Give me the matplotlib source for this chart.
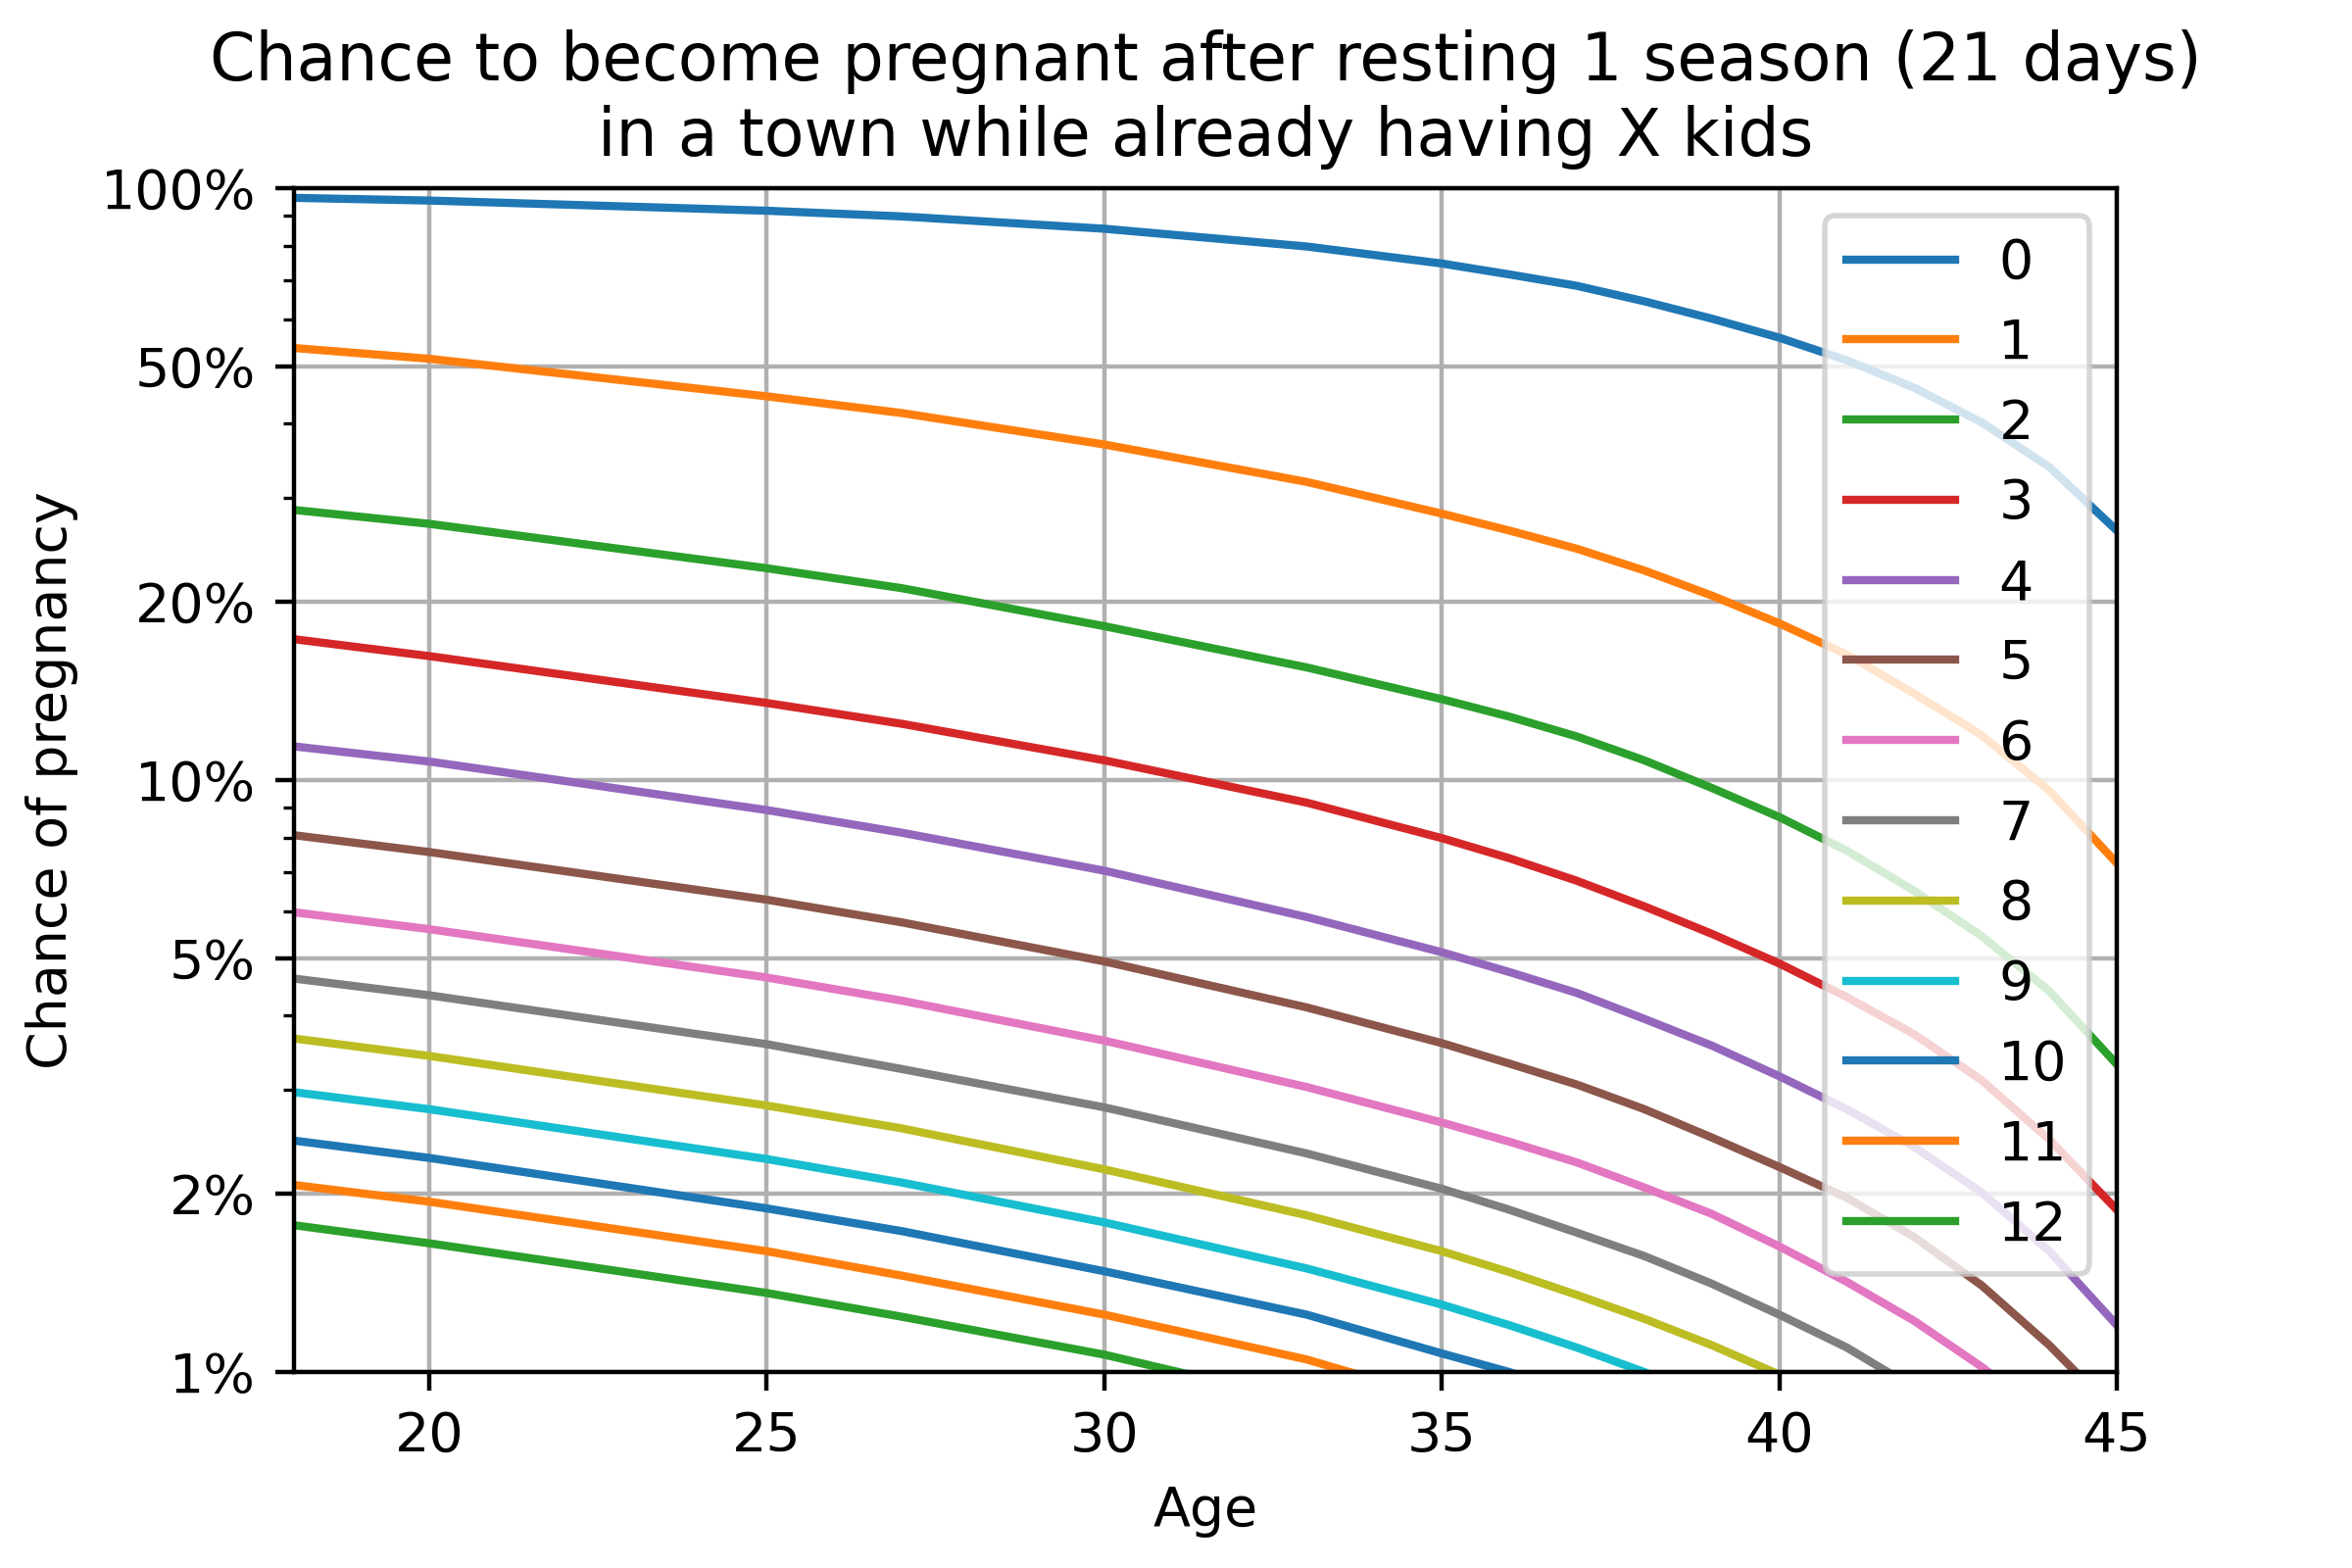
import matplotlib
matplotlib.use("Agg")
import matplotlib.pyplot as plt
from matplotlib.ticker import FixedLocator, FixedFormatter, LogLocator, NullFormatter

# Ages (x values)
ages = [18, 20, 25, 27, 30, 33, 35, 36, 37, 38, 39, 40, 41, 42, 43, 44, 45]

# Chance of pregnancy (%) for each number of kids already had
chance_0 = [96.3, 95.3, 91.6, 89.6, 85.4, 79.7, 74.6, 71.5, 68.4, 64.4, 60.2, 55.9, 51.2, 46.0, 40.2, 33.8, 26.4]
chance_1 = [53.7, 51.5, 44.5, 41.7, 36.9, 31.9, 28.2, 26.4, 24.6, 22.6, 20.5, 18.4, 16.3, 14.0, 11.9, 9.6, 7.24]
chance_2 = [28.6, 27.1, 22.8, 21.1, 18.2, 15.5, 13.7, 12.8, 11.85, 10.8, 9.7, 8.66, 7.6, 6.5, 5.45, 4.40, 3.31]
chance_3 = [17.3, 16.2, 13.5, 12.45, 10.8, 9.16, 7.98, 7.38, 6.76, 6.12, 5.50, 4.90, 4.30, 3.72, 3.11, 2.47, 1.88]
chance_4 = [11.4, 10.75, 8.9, 8.15, 7.03, 5.87, 5.12, 4.74, 4.37, 3.95, 3.56, 3.16, 2.78, 2.40, 2.01, 1.60, 1.20]
chance_5 = [8.07, 7.56, 6.28, 5.75, 4.94, 4.13, 3.595, 3.32, 3.06, 2.78, 2.49, 2.22, 1.97, 1.69, 1.40, 1.11, 0.85]
chance_6 = [5.98, 5.6, 4.64, 4.24, 3.63, 3.03, 2.64, 2.45, 2.26, 2.05, 1.85, 1.63, 1.42, 1.22, 1.02, 0.83, 0.65]
chance_7 = [4.62, 4.33, 3.58, 3.25, 2.80, 2.34, 2.04, 1.88, 1.72, 1.57, 1.41, 1.25, 1.10, 0.94, 0.79, 0.65, 0.50]
chance_8 = [3.66, 3.42, 2.82, 2.58, 2.20, 1.84, 1.60, 1.475, 1.35, 1.23, 1.11, 0.99, 0.87, 0.75, 0.63, 0.51, 0.39]
chance_9 = [2.97, 2.78, 2.29, 2.09, 1.79, 1.496, 1.30, 1.20, 1.10, 1.00, 0.90, 0.80, 0.70, 0.60, 0.50, 0.41, 0.32]
chance_10 = [2.46, 2.30, 1.89, 1.73, 1.48, 1.25, 1.075, 1.00, 0.91, 0.83, 0.75, 0.66, 0.58, 0.50, 0.42, 0.34, 0.26]
chance_11 = [2.07, 1.94, 1.60, 1.455, 1.25, 1.05, 0.90, 0.83, 0.76, 0.69, 0.62, 0.55, 0.48, 0.41, 0.35, 0.28, 0.22]
chance_12 = [1.77, 1.65, 1.36, 1.24, 1.07, 0.89, 0.76, 0.70, 0.64, 0.58, 0.52, 0.46, 0.40, 0.35, 0.29, 0.24, 0.18]

kid_labels = ["0", "1", "2", "3", "4", "5", "6", "7", "8", "9", "10", "11", "12"]
series = [chance_0, chance_1, chance_2, chance_3, chance_4, chance_5, chance_6,
          chance_7, chance_8, chance_9, chance_10, chance_11, chance_12]

y_ticks = [1, 2, 5, 10, 20, 50, 100]
y_tick_labels = ["1%", "2%", "5%", "10%", "20%", "50%", "100%"]

fig = plt.figure(figsize=(6, 4), dpi=400)
ax = fig.add_axes([0.125, 0.125, 0.775, 0.755])

for lab, vals in zip(kid_labels, series):
    ax.plot(ages, vals, label=lab, linewidth=1.5)

ax.set_yscale("log")
ax.set_xlim(18, 45)
ax.set_ylim(1, 100)
ax.yaxis.set_major_locator(FixedLocator(y_ticks))
ax.yaxis.set_major_formatter(FixedFormatter(y_tick_labels))
ax.yaxis.set_minor_locator(LogLocator(base=10, subs=(3, 4, 6, 7, 8, 9)))
ax.yaxis.set_minor_formatter(NullFormatter())

ax.grid(True, which="major")
ax.set_xlabel("Age")
ax.set_ylabel("Chance of pregnancy")
ax.set_title("Chance to become pregnant after resting 1 season (21 days)\nin a town while already having X kids")
ax.legend(loc="upper right")

fig.savefig("out.png", dpi=400)
